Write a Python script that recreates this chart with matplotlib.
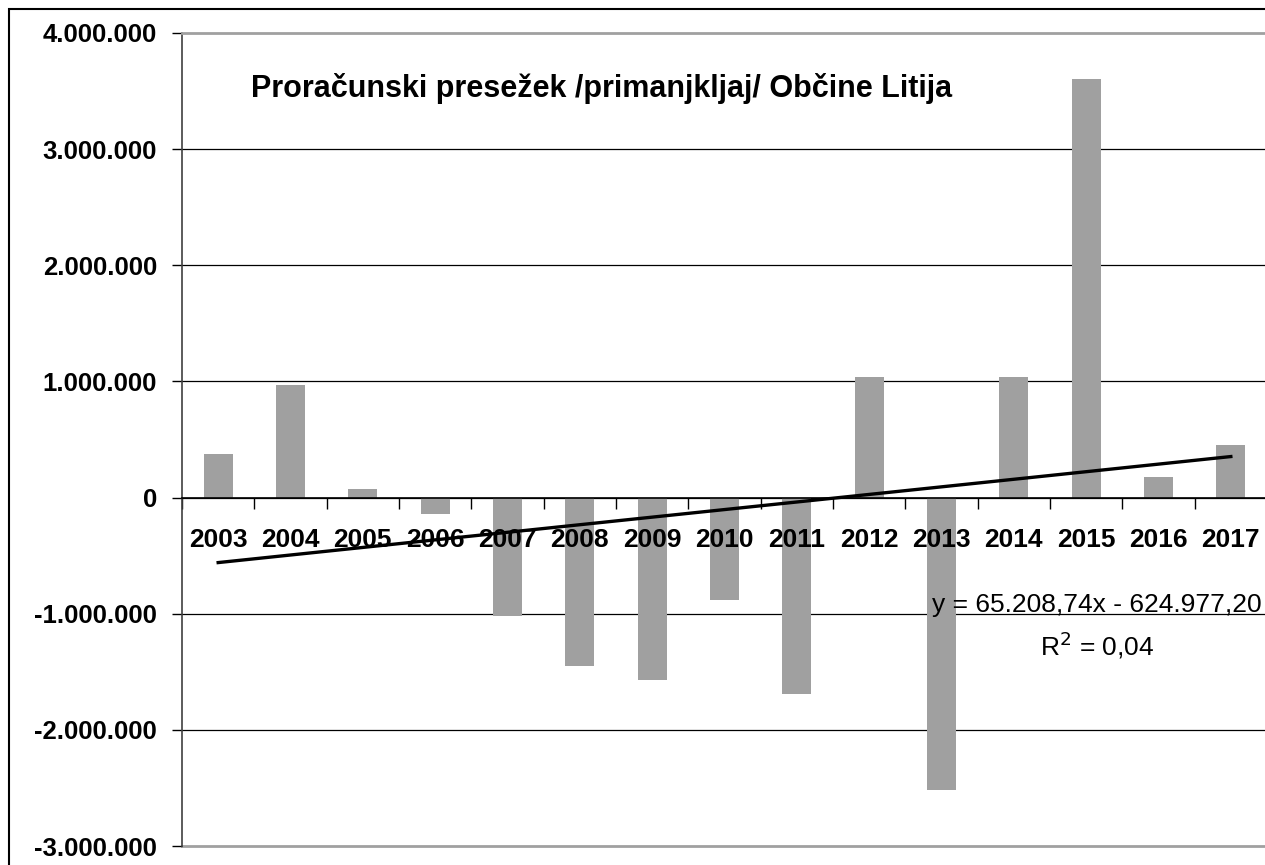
import numpy as np
import matplotlib.pyplot as plt
from matplotlib.patches import Rectangle
from matplotlib.ticker import FixedLocator, FuncFormatter

plt.rcParams['font.family'] = ['Liberation Sans', 'DejaVu Sans']

# podatki: proračunski presežek / primanjkljaj po letih (EUR)
years = ['2003', '2004', '2005', '2006', '2007', '2008', '2009', '2010',
         '2011', '2012', '2013', '2014', '2015', '2016', '2017']
balance = [375000, 970000, 74000, -140000, -1020000, -1450000, -1570000, -880000,
           -1690000, 1040000, -2520000, 1040000, 3600000, 180000, 450000]

# linearni trend (iz Excela)
trend_slope = 65208.74
trend_intercept = -624977.20
trend_label = "y = 65.208,74x - 624.977,20\nR$^2$ = 0,04"
title = "Proračunski presežek /primanjkljaj/ Občine Litija"

W, H = 1265, 865
fig = plt.figure(figsize=(W / 100, H / 100), dpi=100)
ax = fig.add_axes([182 / W, 1 - 846 / H, (1267 - 182) / W, (846 - 33) / H])

yticks = np.arange(-3000000, 4000001, 1000000)

# mreža za stolpci
for v in yticks[1:-1]:
    ax.axhline(v, color='black', lw=0.9, zorder=0.5)

x = np.arange(len(years))
ax.bar(x, balance, width=0.4, color="#a0a0a0", zorder=1)

# trendna črta (x = 1..15 kot v Excelu)
tx = np.array([1, len(years)])
ax.plot(tx - 1, trend_slope * tx + trend_intercept, color="black", lw=2.4, zorder=4)

ax.set_xlim(-0.5, len(years) - 0.5)
ax.set_ylim(-3000000, 4000000)

# y os
ax.yaxis.set_major_locator(FixedLocator(yticks))
ax.yaxis.set_major_formatter(FuncFormatter(lambda v, p: f"{int(v):,}".replace(",", ".")))
ax.tick_params(axis='y', length=7, width=1, direction='out', pad=11,
               labelsize=18.5)
for lab in ax.get_yticklabels():
    lab.set_fontweight('bold')

# x os na ničli, oznake kategorij
ax.spines['bottom'].set_position(('data', 0))
ax.spines['bottom'].set_linewidth(1.2)
ax.set_xticks(x)
ax.set_xticklabels(years, fontsize=19, fontweight='bold')
ax.set_xticks(np.arange(len(years) + 1) - 0.5, minor=True)
ax.tick_params(axis='x', which='major', length=0, pad=22)
ax.tick_params(axis='x', which='minor', length=8, width=1, direction='out')

ax.spines['left'].set_color('#404040')
ax.spines['left'].set_linewidth(1.2)
ax.spines['top'].set_color('#a0a0a0')
ax.spines['top'].set_linewidth(2)
ax.spines['right'].set_visible(False)

# spodnja meja risalne površine
ax.axhline(-3000000, color='#a0a0a0', lw=2, zorder=0.5, clip_on=False)

ax.text(602 / W, 1 - 89 / H, title, transform=fig.transFigure, ha='center',
        va='center', fontsize=22, fontweight='bold')

ax.text(1097 / W, 1 - 627 / H, trend_label, transform=fig.transFigure,
        ha='center', va='center', fontsize=19, multialignment='center',
        linespacing=1.45, zorder=5)

# okvir grafikona
fig.patches.append(Rectangle((9 / W, -0.1), 1.2, 1 - 9 / H + 0.1,
                             transform=fig.transFigure, fill=False,
                             edgecolor='black', lw=1.5))

fig.savefig("out.png", dpi=100)
